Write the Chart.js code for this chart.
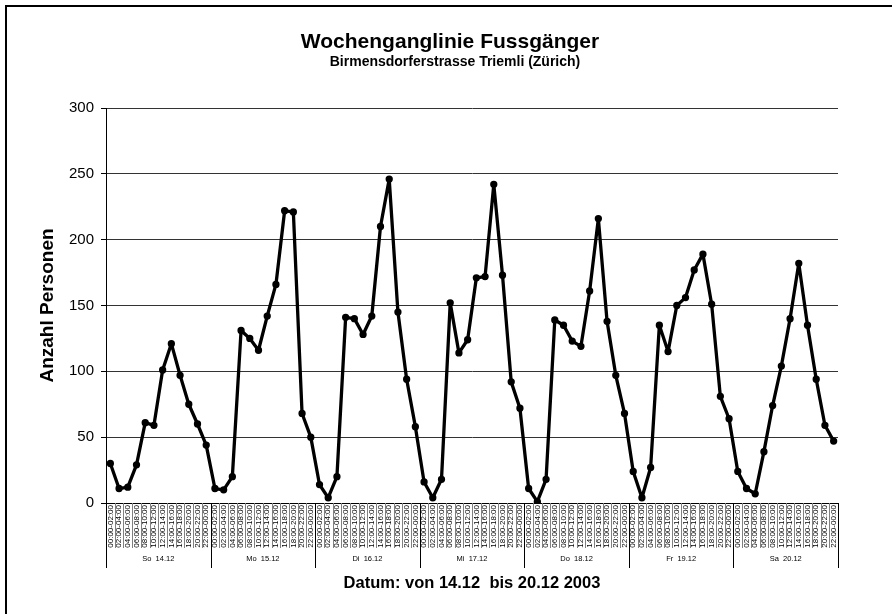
<!DOCTYPE html>
<html>
<head>
<meta charset="utf-8">
<script src="https://cdn.jsdelivr.net/npm/chart.js@4/dist/chart.umd.min.js"></script>
<style>
  body { margin: 0; background: #fff; }
</style>
</head>
<body>
<canvas id="chart" width="892" height="614"></canvas>
<script>
// Zweistunden-Intervalle pro Tag
const times = ['00:00-02:00', '02:00-04:00', '04:00-06:00', '06:00-08:00', '08:00-10:00', '10:00-12:00',
               '12:00-14:00', '14:00-16:00', '16:00-18:00', '18:00-20:00', '20:00-22:00', '22:00-00:00'];
const days = ['So  14.12', 'Mo  15.12', 'Di  16.12', 'Mi  17.12', 'Do  18.12', 'Fr  19.12', 'Sa  20.12'];

// Anzahl Personen pro Intervall
const sonntag    = [30, 11, 12, 29, 61, 59, 101, 121, 97, 75, 60, 44];
const montag     = [11, 10, 20, 131, 125, 116, 142, 166, 222, 221, 68, 50];
const dienstag   = [14, 4, 20, 141, 140, 128, 142, 210, 246, 145, 94, 58];
const mittwoch   = [16, 4, 18, 152, 114, 124, 171, 172, 242, 173, 92, 72];
const donnerstag = [11, 1, 18, 139, 135, 123, 119, 161, 216, 138, 97, 68];
const freitag    = [24, 4, 27, 135, 115, 150, 156, 177, 189, 151, 81, 64];
const samstag    = [24, 11, 7, 39, 74, 104, 140, 182, 135, 94, 59, 47];

const yTicks = [0, 50, 100, 150, 200, 250, 300];

const labels = days.flatMap(() => times);
const counts = [].concat(sonntag, montag, dienstag, mittwoch, donnerstag, freitag, samstag);

const FONT = '"Liberation Sans", Arial, sans-serif';
Chart.defaults.font.family = FONT;
Chart.defaults.color = '#000';

// weisser Hintergrund, Rahmen (rechts/unten abgeschnitten) und Titel
const frame = {
  id: 'frame',
  beforeDraw(chart) {
    const ctx = chart.ctx;
    ctx.save();
    ctx.fillStyle = '#fff';
    ctx.fillRect(0, 0, chart.width, chart.height);
    ctx.strokeStyle = '#000';
    ctx.lineWidth = 2;
    ctx.strokeRect(6, 6, chart.width + 20, chart.height + 20);

    ctx.fillStyle = '#000';
    ctx.textAlign = 'center';
    ctx.textBaseline = 'alphabetic';
    ctx.font = 'bold 21px ' + FONT;
    ctx.fillText('Wochenganglinie Fussgänger', 450, 48);
    ctx.font = 'bold 14px ' + FONT;
    ctx.fillText('Birmensdorferstrasse Triemli (Zürich)', 455, 66);
    ctx.restore();
  }
};

// zweizeilige x-Achse: Zeitintervalle + Tage
const xLabels = {
  id: 'xLabels',
  afterDraw(chart) {
    const {ctx, chartArea, scales: {x}} = chart;
    const bottom = chartArea.bottom;
    const n = labels.length;
    ctx.save();
    ctx.lineWidth = 1;
    for (let i = 0; i <= n; i++) {
      let px;
      if (i === 0) px = chartArea.left;
      else if (i === n) px = chartArea.right;
      else px = (x.getPixelForValue(i - 1) + x.getPixelForValue(i)) / 2;
      const isDay = i % times.length === 0;
      const xx = Math.round(px) + 0.5;
      ctx.strokeStyle = isDay ? '#000' : '#808080';
      ctx.beginPath();
      ctx.moveTo(xx, bottom);
      ctx.lineTo(xx, bottom + (isDay ? 65 : 45));
      ctx.stroke();
    }

    ctx.fillStyle = '#000';
    ctx.font = '8px ' + FONT;
    ctx.textAlign = 'right';
    ctx.textBaseline = 'middle';
    labels.forEach((lab, i) => {
      ctx.save();
      ctx.translate(x.getPixelForValue(i), bottom + 2);
      ctx.rotate(-Math.PI / 2);
      ctx.fillText(lab, 0, 0);
      ctx.restore();
    });

    ctx.font = '7.5px ' + FONT;
    ctx.textAlign = 'center';
    days.forEach((d, k) => {
      const a = x.getPixelForValue(k * times.length);
      const b = x.getPixelForValue((k + 1) * times.length - 1);
      ctx.fillText(d, (a + b) / 2, bottom + 56);
    });
    ctx.restore();
  }
};

new Chart(document.getElementById('chart'), {
  type: 'line',
  data: {
    labels: labels,
    datasets: [{
      data: counts,
      borderColor: '#000',
      backgroundColor: '#000',
      borderWidth: 3.3,
      borderJoinStyle: 'round',
      borderCapStyle: 'round',
      pointRadius: 2,
      pointBackgroundColor: '#000',
      tension: 0,
      fill: false
    }]
  },
  options: {
    responsive: false,
    animation: false,
    layout: { padding: { left: 8, right: 54, top: 108, bottom: 0 } },
    plugins: {
      legend: { display: false },
      tooltip: { enabled: false }
    },
    scales: {
      x: {
        offset: true,
        grid: { display: false },
        border: { display: true, color: '#000' },
        ticks: { display: false },
        title: {
          display: true,
          text: 'Datum: von 14.12  bis 20.12 2003',
          color: '#000',
          font: { size: 16.5, weight: 'bold' },
          padding: { top: 0, bottom: 21 }
        },
        afterFit(s) { s.height = 111; }
      },
      y: {
        min: yTicks[0],
        max: yTicks[yTicks.length - 1],
        ticks: { stepSize: yTicks[1] - yTicks[0], color: '#000', font: { size: 15 }, padding: 7 },
        grid: { color: '#333', tickLength: 5, tickColor: '#000' },
        border: { color: '#000' },
        title: {
          display: true,
          text: 'Anzahl Personen',
          color: '#000',
          font: { size: 19, weight: 'bold' },
          padding: { top: 28, bottom: 0 }
        },
        afterFit(s) { s.width = 98; }
      }
    }
  },
  plugins: [frame, xLabels]
});
</script>
</body>
</html>
